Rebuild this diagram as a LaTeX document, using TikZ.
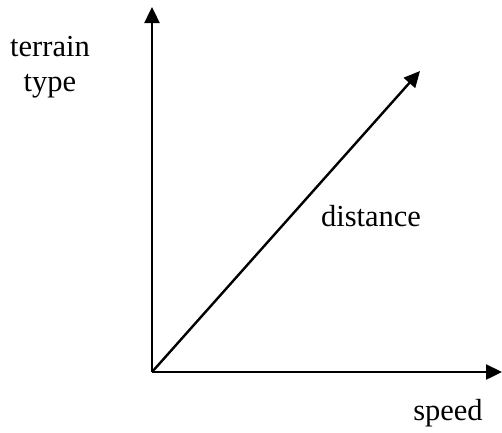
\documentclass[tikz,border=0pt]{standalone}
\usepackage{fontspec}
\setmainfont{Liberation Serif}
\usetikzlibrary{arrows.meta,positioning}
\tikzset{
  axis/.style  = {-{Triangle[length=16pt,width=15pt]}, draw=black,
                  line width=2.4pt},
  lbl/.style   = {font=\fontsize{30.5}{35}\selectfont, inner sep=0pt,
                  align=center, anchor=base},
}

\begin{document}
\begin{tikzpicture}[x=1pt, y=-1pt]
  \useasboundingbox (0,0) rectangle (502,432);

  % ---------- axes ----------------------------------------------------------
  \coordinate (orig)  at (152,372);
  \coordinate (ytip)  at (152,7);
  \coordinate (xtip)  at (502,372);
  \coordinate (dtip)  at (420,71);

  \draw[axis] (orig) -- (ytip);
  \draw[axis] (orig) -- (xtip);
  \draw[axis] (orig) -- (dtip);

  % ---------- labels --------------------------------------------------------
  \node[lbl] (terrain) at (50,56)  {terrain};
  \node[lbl] (type)    at (50,91)  {type};
  \node[lbl] (dist)    at (371,226) {distance};
  \node[lbl] (speed)   at (448,420) {speed};

\end{tikzpicture}
\end{document}
